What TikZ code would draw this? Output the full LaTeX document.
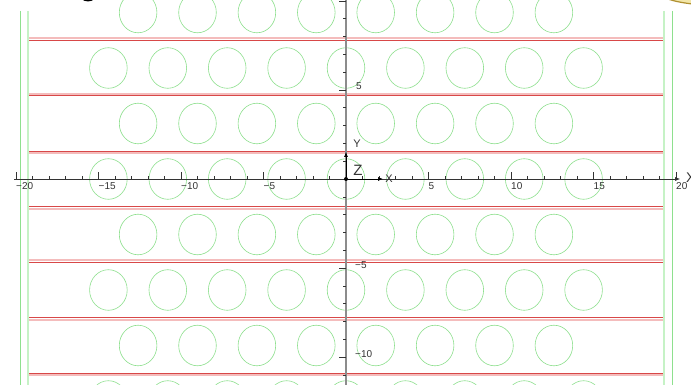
\documentclass[tikz,border=0pt]{standalone}
\usepackage{fontspec}
\setmainfont{Liberation Sans}
\usetikzlibrary{arrows.meta}
\definecolor{cgreen}{HTML}{8EE08E}
\definecolor{cgreenl}{HTML}{C6F2C6}
\definecolor{cred}{HTML}{D84848}
\definecolor{cpink}{HTML}{F4BCBC}
\definecolor{ctext}{HTML}{333333}
\definecolor{caxis}{HTML}{8C8C8C}
\definecolor{cgold}{HTML}{B09030}
\definecolor{cgoldfill}{HTML}{F2E6A8}
\begin{document}
\begin{tikzpicture}[x=1pt,y=-1pt,
  tickmark/.style={ctext, line width=0.6pt},
  ticklab/.style={text=ctext, font=\fontsize{10}{10}\selectfont, inner sep=0pt},
  axlab/.style={text=ctext, font=\fontsize{11}{11}\selectfont, inner sep=0pt},
  disk/.style={cgreen, line width=0.6pt},
  redline/.style={cred, line width=0.8pt},
  pinkline/.style={cpink, line width=1.6pt},
  wallthin/.style={cgreen, line width=0.8pt},
  wallthick/.style={cgreenl, line width=2pt},
  unitarrow/.style={black, line width=0.7pt, -{Latex[length=5pt,width=4pt]}}]
\useasboundingbox (0,0) rectangle (691,385);
\clip (0,0) rectangle (691,385);
\fill[white] (0,0) rectangle (691,385);
% fragments at the top edge
\fill[black] (88,-9) ellipse [x radius=10, y radius=10.5];
\filldraw[fill=cgoldfill, draw=cgold, line width=1.2pt] (730,-6) ellipse [x radius=68, y radius=12];
\begin{scope}[shift={(346,179)}, x=16.5pt, y=17.8pt]
  % circles
  \foreach \k in {-4,-2,0,2}
    \foreach \j in {-4,...,4}
      \draw[disk] ({3.6*\j},{3.118*\k}) circle [radius=1.14];
  \foreach \k in {-3,-1,1,3}
    \foreach \j in {-4,...,3}
      \draw[disk] ({1.8+3.6*\j},{3.118*\k}) circle [radius=1.14];
  % red double lines
  \foreach \k/\s in {2/1,1/1,0/-1,-1/-1,-2/1,-3/-1,-4/-1}{
    \draw[pinkline] (-19.25,{3.118*(\k+0.5)+\s*0.11}) -- (19.25,{3.118*(\k+0.5)+\s*0.11});
    \draw[redline] (-19.25,{3.118*(\k+0.5)}) -- (19.25,{3.118*(\k+0.5)});
  }
  % green walls
  \draw[wallthin] (-19.76,9.44) -- (-19.76,-12);
  \draw[wallthin] (19.76,9.44) -- (19.76,-12);
  \draw[wallthick] (-19.25,9.44) -- (-19.25,-12);
  \draw[wallthick] (19.25,9.44) -- (19.25,-12);
  % y axis
  \coordinate (yt) at (0,10.3);
  \coordinate (yb) at (0,-12);
  \draw[caxis, line width=1.3pt] (yt) -- (yb);
  % x axis
  \coordinate (xl) at (-20.1,0);
  \coordinate (xr) at (20.25,0);
  \draw[ctext, line width=0.7pt, -{Latex[length=5pt,width=4pt]}] (xl) -- (xr);
  % ticks
  \foreach \i in {-20,...,20}{
    \ifnum\i=0\else
      \pgfmathsetmacro\h{mod(\i,5)==0 ? 7 : 3}
      \draw[tickmark] (\i,0) -- ++(0pt,\h pt);
    \fi
  }
  \foreach \i in {-11,...,10}{
    \ifnum\i=0\else
      \pgfmathsetmacro\h{mod(\i,5)==0 ? 7 : 3}
      \draw[tickmark] (0,\i) -- ++(-\h pt,0pt);
    \fi
  }
  % tick labels
  \foreach \v/\t in {-20/m20,-15/m15,-10/m10,-5/m5,5/p5,10/p10,15/p15,20/p20}{
    \node[ticklab, anchor=north west, yshift=-3pt] (lx\t) at (\v,0) {\ifnum\v<0 −\number-\v\else\v\fi};
  }
  \node[ticklab, anchor=base west, xshift=10pt] (ly5) at (0,5) {5};
  \node[ticklab, anchor=base west, xshift=9pt] (lym5) at (0,-5) {−5};
  \node[ticklab, anchor=base west, xshift=9pt] (lym10) at (0,-10) {−10};
\end{scope}
% origin and unit vectors
\node[circle, fill=black, inner sep=0pt, minimum size=4pt] (o) at (346,179) {};
\coordinate (ex) at (383,179);
\coordinate (ey) at (346,152);
\draw[unitarrow] (o) -- (ex);
\draw[unitarrow] (o) -- (ey);
\node[axlab] (lX) at (389,179) {X};
\node[axlab] (lY) at (357,144) {Y};
\node[text=ctext, font=\fontsize{15}{15}\selectfont, inner sep=0pt] (lZ) at (358,170) {Z};
\node[text=ctext, font=\fontsize{14}{14}\selectfont, inner sep=0pt, anchor=west] (lXr) at (686,178) {X};
\end{tikzpicture}
\end{document}
